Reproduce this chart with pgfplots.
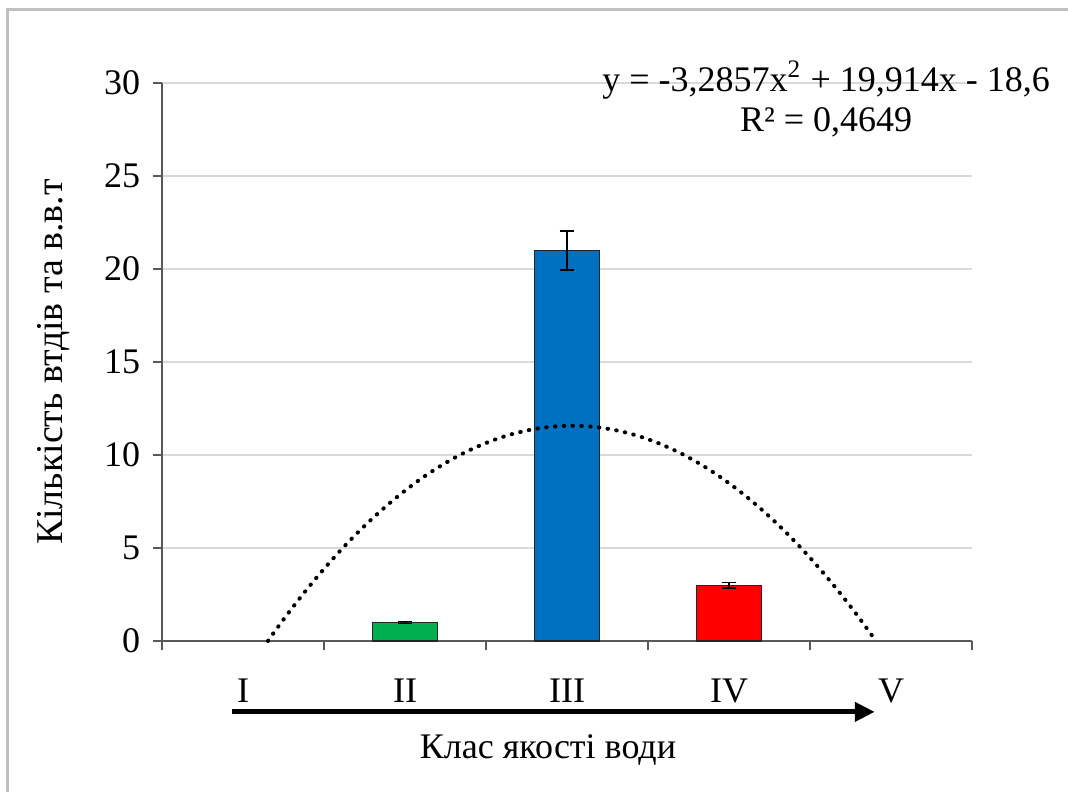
\documentclass[border=0pt]{standalone}
\usepackage{pgfplots}
\pgfplotsset{compat=1.18}
\usepackage{fontspec}
\setmainfont{Liberation Serif}
\usetikzlibrary{arrows.meta}
\definecolor{cgreen}{HTML}{00B050}
\definecolor{cblue}{HTML}{0070C0}
\definecolor{cred}{HTML}{FF0000}
\definecolor{axgray}{HTML}{595959}
\definecolor{gridgray}{HTML}{D9D9D9}
\definecolor{framegray}{HTML}{C0C0C0}
\begin{document}
\begin{tikzpicture}
\fontsize{13.5}{16}\selectfont
\path[use as bounding box] (-60.75pt,-56.25pt) rectangle (339.75pt,240.375pt);
\fill[white] (-60.75pt,-56.25pt) rectangle (339.75pt,240.375pt);
\draw[framegray, line width=1.125pt] (-57.94pt,-60pt) -- (-57.94pt,236.7pt) -- (345pt,236.7pt);
\begin{axis}[
  at={(0,0)}, anchor=south west,
  scale only axis, width=303.75pt, height=209.25pt,
  xmin=0.5, xmax=5.5, ymin=0, ymax=30,
  axis lines=left, axis line style={axgray, line width=0.6pt, -},
  clip=false,
  ytick={0,5,...,30},
  ymajorgrids, major grid style={gridgray, line width=0.6pt},
  tick align=outside, major tick length=3.5pt,
  tick style={axgray, line width=0.6pt},
  xtick={0.5,1.5,...,5.5}, xticklabels={},
  extra x ticks={1,2,3,4,5},
  extra x tick labels={I,II,III,IV,V},
  extra x tick style={major tick length=0pt, tick label style={yshift=-9.5pt}},
  /pgf/number format/assume math mode=true,
  ticklabel style={font=\fontsize{13.5}{16}\selectfont},
  ylabel={Кількість втдів та в.в.т},
  ylabel style={at={(axis description cs:-0.134,0.5)}, anchor=center, rotate=0, font=\fontsize{14.2}{16}\selectfont},
  xlabel={Клас якості води},
  xlabel style={at={(axis description cs:0.4765,-0.195)}, anchor=center, font=\fontsize{13.5}{16}\selectfont},
  bar width=0.4,
]
\addplot[ybar, fill=cgreen, draw=black!85, line width=0.5pt,
  error bars/.cd, y dir=both, y explicit,
  error bar style={black, line width=0.6pt},
  error mark options={rotate=90, black, line width=0.6pt, mark size=2.8pt}]
  coordinates {(2,1) +- (0,0.06)};
\addplot[ybar, fill=cblue, draw=black!85, line width=0.5pt,
  error bars/.cd, y dir=both, y explicit,
  error bar style={black, line width=0.6pt},
  error mark options={rotate=90, black, line width=0.6pt, mark size=2.8pt}]
  coordinates {(3,21) +- (0,1.05)};
\addplot[ybar, fill=cred, draw=black!85, line width=0.5pt,
  error bars/.cd, y dir=both, y explicit,
  error bar style={black, line width=0.6pt},
  error mark options={rotate=90, black, line width=0.6pt, mark size=2.8pt}]
  coordinates {(4,3) +- (0,0.15)};
\addplot[black, line width=1.5pt, line cap=round, dash pattern=on 0.2pt off 3.1pt, smooth, mark=none]
  coordinates {
  (1.154,0) (1.2,0.565) (1.3,1.735) (1.4,2.840) (1.5,3.878) (1.6,4.851)
  (1.7,5.758) (1.8,6.600) (1.9,7.375) (2.0,8.085) (2.1,8.730) (2.2,9.308)
  (2.3,9.821) (2.4,10.268) (2.5,10.649) (2.6,10.965) (2.7,11.215) (2.8,11.399)
  (2.9,11.518) (3.0,11.571) (3.1,11.558) (3.2,11.479) (3.3,11.335) (3.4,11.125)
  (3.5,10.849) (3.6,10.508) (3.7,10.101) (3.8,9.628) (3.9,9.089) (4.0,8.485)
  (4.1,7.815) (4.2,7.079) (4.3,6.278) (4.4,5.410) (4.5,4.478) (4.6,3.479)
  (4.7,2.415) (4.8,1.285) (4.9,0.089) (4.907,0)
  };
\draw[black, line width=1.9pt, -{Triangle[length=7.5pt, width=7pt]}]
  (rel axis cs:0.0864,-0.127) -- (rel axis cs:0.880,-0.127);
\node[anchor=center] at (rel axis cs:0.82,1.005) {y = -3,2857x\textsuperscript{2} + 19,914x - 18,6};
\node[anchor=center] at (rel axis cs:0.82,0.930) {R² = 0,4649};
\end{axis}
\end{tikzpicture}
\end{document}
